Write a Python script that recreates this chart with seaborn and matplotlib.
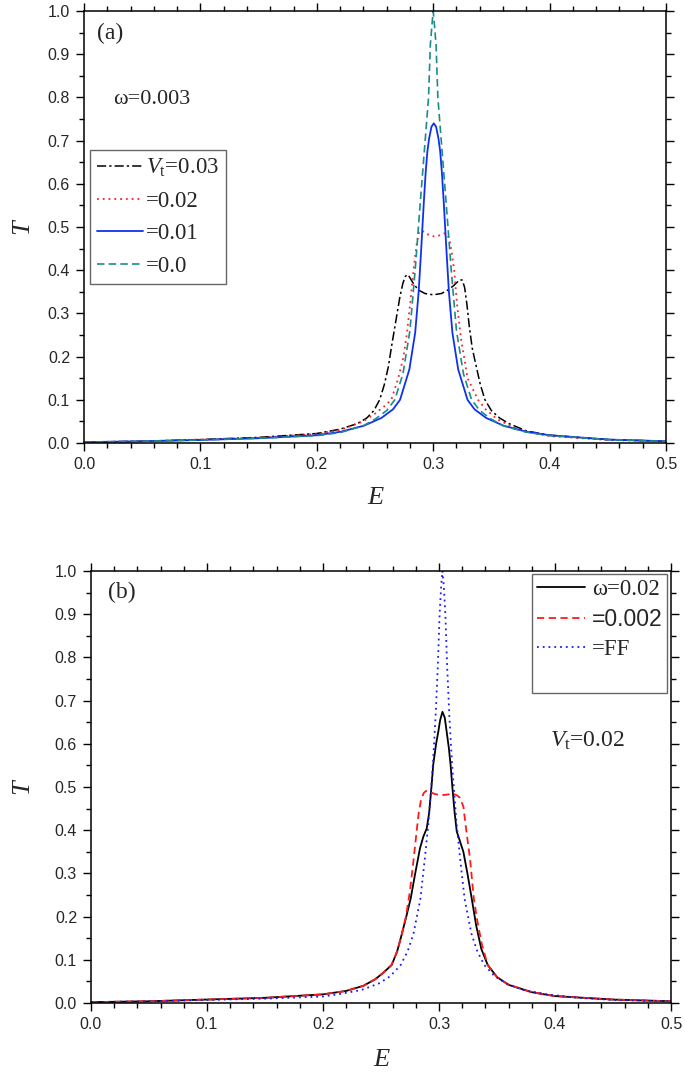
import matplotlib
matplotlib.use('Agg')
import matplotlib.pyplot as plt
from matplotlib.ticker import MultipleLocator, FormatStrFormatter
from matplotlib.lines import Line2D
import seaborn as sns

# ---- panel (a): omega = 0.003, several V_t ----
e_a_v003 = [0.0, 0.05, 0.1, 0.15, 0.2, 0.22, 0.235, 0.243, 0.249, 0.254, 0.258, 0.2615, 0.264, 0.2665, 0.269,
            0.2715, 0.274, 0.276, 0.2775, 0.279, 0.281, 0.284, 0.288, 0.293, 0.3, 0.307, 0.312, 0.317, 0.3205,
            0.323, 0.325, 0.327, 0.329, 0.331, 0.3335, 0.337, 0.3405, 0.3445, 0.35, 0.357, 0.365, 0.38, 0.4,
            0.45, 0.5]
t_a_v003 = [0.002, 0.004, 0.008, 0.013, 0.022, 0.032, 0.045, 0.058, 0.075, 0.10, 0.135, 0.177, 0.22, 0.26, 0.30,
            0.34, 0.37, 0.385, 0.39, 0.387, 0.378, 0.365, 0.353, 0.346, 0.343, 0.346, 0.353, 0.363, 0.372,
            0.378, 0.377, 0.36, 0.32, 0.27, 0.22, 0.177, 0.135, 0.10, 0.075, 0.058, 0.045, 0.028, 0.018,
            0.008, 0.004]

e_a_v002 = [0.0, 0.05, 0.1, 0.15, 0.2, 0.22, 0.24, 0.25, 0.258, 0.264, 0.27, 0.2745, 0.2775, 0.2805, 0.2835,
            0.2858, 0.2875, 0.2895, 0.292, 0.296, 0.301, 0.306, 0.3095, 0.312, 0.314, 0.316, 0.318, 0.3205,
            0.324, 0.3295, 0.3385, 0.345, 0.355, 0.37, 0.38, 0.4, 0.45, 0.5]
t_a_v002 = [0.002, 0.004, 0.008, 0.012, 0.021, 0.03, 0.05, 0.068, 0.085, 0.10, 0.15, 0.20, 0.255, 0.33, 0.41,
            0.46, 0.485, 0.492, 0.489, 0.482, 0.478, 0.481, 0.485, 0.484, 0.47, 0.44, 0.40, 0.32,
            0.24, 0.15, 0.10, 0.078, 0.055, 0.035, 0.026, 0.016, 0.007, 0.004]

e_a_v001 = [0.0, 0.05, 0.1, 0.15, 0.2, 0.2205, 0.2405, 0.2555, 0.2655, 0.2715, 0.2795, 0.2845, 0.2875, 0.2895,
            0.292, 0.2935, 0.295, 0.2965, 0.2985, 0.3005, 0.3025, 0.3045, 0.306, 0.3075, 0.309, 0.3115,
            0.3135, 0.3165, 0.3215, 0.3295, 0.3355, 0.3455, 0.3605, 0.3805, 0.4, 0.45, 0.5]
t_a_v001 = [0.002, 0.004, 0.007, 0.011, 0.018, 0.026, 0.04, 0.058, 0.078, 0.10, 0.17, 0.255, 0.35, 0.44,
            0.56, 0.625, 0.675, 0.705, 0.732, 0.74, 0.732, 0.705, 0.675, 0.625, 0.56, 0.44,
            0.35, 0.255, 0.17, 0.10, 0.078, 0.058, 0.04, 0.026, 0.018, 0.008, 0.004]

e_a_v000 = [0.0, 0.05, 0.1, 0.15, 0.2, 0.22, 0.24, 0.25, 0.26, 0.267, 0.274, 0.28, 0.2845, 0.289, 0.2925,
            0.296, 0.2975, 0.299, 0.300, 0.301, 0.3025, 0.304, 0.3075, 0.311, 0.3155, 0.32, 0.326, 0.333,
            0.34, 0.35, 0.36, 0.38, 0.4, 0.45, 0.5]
t_a_v000 = [0.002, 0.004, 0.007, 0.011, 0.017, 0.024, 0.04, 0.055, 0.075, 0.10, 0.16, 0.26, 0.40, 0.56, 0.68,
            0.80, 0.92, 0.97, 1.0, 0.97, 0.92, 0.80, 0.68, 0.56, 0.40, 0.26, 0.16, 0.10,
            0.075, 0.055, 0.04, 0.025, 0.017, 0.008, 0.004]

# ---- panel (b): V_t = 0.02, several omega ----
e_b_w002 = [0.0, 0.05, 0.1, 0.15, 0.2, 0.22, 0.235, 0.245, 0.252, 0.2592, 0.264, 0.268, 0.2718, 0.2756, 0.2795,
            0.2836, 0.2865, 0.2894, 0.2915, 0.2935, 0.295, 0.2975, 0.2994, 0.301, 0.303, 0.305, 0.3066,
            0.3085, 0.31, 0.3115, 0.3135, 0.3153, 0.318, 0.321, 0.3245, 0.3282, 0.332, 0.3365, 0.342,
            0.35, 0.36, 0.38, 0.4, 0.45, 0.5]
t_b_w002 = [0.002, 0.004, 0.008, 0.012, 0.02, 0.028, 0.04, 0.055, 0.07, 0.088, 0.12, 0.16, 0.20, 0.242, 0.30,
            0.358, 0.385, 0.404, 0.44, 0.50, 0.551, 0.60, 0.628, 0.655, 0.674, 0.66, 0.628,
            0.59, 0.551, 0.50, 0.44, 0.397, 0.375, 0.35, 0.30, 0.242, 0.18, 0.125, 0.088,
            0.06, 0.042, 0.025, 0.016, 0.008, 0.004]

e_b_w0002 = [0.0, 0.05, 0.1, 0.15, 0.2, 0.22, 0.235, 0.245, 0.252, 0.259, 0.264, 0.268, 0.2715, 0.275, 0.278,
             0.2807, 0.2825, 0.2845, 0.2868, 0.2888, 0.292, 0.296, 0.301, 0.306, 0.3105, 0.3135, 0.3158,
             0.318, 0.321, 0.3235, 0.3267, 0.330, 0.333, 0.337, 0.342, 0.35, 0.36, 0.38, 0.4, 0.45, 0.5]
t_b_w0002 = [0.002, 0.004, 0.008, 0.012, 0.02, 0.028, 0.04, 0.055, 0.07, 0.088, 0.12, 0.16, 0.20, 0.26, 0.33,
             0.397, 0.44, 0.47, 0.486, 0.491, 0.489, 0.484, 0.481, 0.482, 0.484, 0.483, 0.48,
             0.475, 0.455, 0.40, 0.335, 0.242, 0.19, 0.135, 0.088, 0.06, 0.042, 0.025, 0.016, 0.008, 0.004]

e_b_ff = [0.0, 0.05, 0.1, 0.15, 0.2, 0.213, 0.233, 0.248, 0.258, 0.267, 0.273, 0.278, 0.284, 0.288, 0.291,
          0.2947, 0.297, 0.299, 0.3005, 0.302, 0.303, 0.304, 0.3055, 0.307, 0.309, 0.3113, 0.315, 0.318,
          0.322, 0.328, 0.333, 0.339, 0.348, 0.358, 0.373, 0.393, 0.42, 0.45, 0.5]
t_b_ff = [0.002, 0.004, 0.007, 0.010, 0.015, 0.02, 0.03, 0.045, 0.062, 0.088, 0.12, 0.16, 0.242, 0.34, 0.42,
          0.551, 0.66, 0.78, 0.90, 0.97, 1.0, 0.97, 0.90, 0.78, 0.66, 0.551, 0.42, 0.34,
          0.242, 0.16, 0.12, 0.088, 0.062, 0.045, 0.03, 0.02, 0.012, 0.007, 0.004]

labels_a = [r'$V_{\rm t}$=0.03', '=0.02', '=0.01', '=0.0']
labels_b = ['\u03c9=0.02', '=0.002', '=FF']

sns.set_style('ticks')
plt.rcParams['font.family'] = ['Liberation Serif', 'DejaVu Serif']
plt.rcParams['mathtext.fontset'] = 'custom'
plt.rcParams['mathtext.rm'] = 'Liberation Serif'
plt.rcParams['mathtext.it'] = 'Liberation Serif:italic'


def style_axes(ax, xpad, ypad):
    ax.set_xlim(0, 0.5)
    ax.set_ylim(0, 1.0)
    ax.xaxis.set_major_locator(MultipleLocator(0.1))
    ax.xaxis.set_minor_locator(MultipleLocator(0.02))
    ax.yaxis.set_major_locator(MultipleLocator(0.1))
    ax.yaxis.set_minor_locator(MultipleLocator(0.05))
    ax.xaxis.set_major_formatter(FormatStrFormatter('%.1f'))
    ax.yaxis.set_major_formatter(FormatStrFormatter('%.1f'))
    ax.tick_params(which='both', direction='out', top=True, right=True, width=1.0, color='black')
    ax.tick_params(which='major', length=6, labelsize=11.5, pad=4)
    ax.tick_params(which='minor', length=3.5)
    for lab in ax.get_xticklabels() + ax.get_yticklabels():
        lab.set_family('Liberation Sans')
    for sp in ax.spines.values():
        sp.set_linewidth(1.1)
        sp.set_color('black')
    ax.set_xlabel('E', fontsize=19, fontstyle='italic', va='center')
    ax.set_ylabel('T', fontsize=19, fontstyle='italic', va='center')
    ax.xaxis.set_label_coords(0.5, xpad)
    ax.yaxis.set_label_coords(ypad, 0.5)


fig = plt.figure(figsize=(6.85, 10.75), dpi=100)
ax1 = fig.add_axes([84 / 685, 1 - 443 / 1075, 582 / 685, 432 / 1075])
ax2 = fig.add_axes([91 / 685, 1 - 1003 / 1075, 580 / 685, 432 / 1075])

# panel (a)
sns.lineplot(x=e_a_v003, y=t_a_v003, ax=ax1, color='black', lw=1.1, linestyle=(0, (6, 2, 1.5, 2)),
             label=labels_a[0], estimator=None)
sns.lineplot(x=e_a_v002, y=t_a_v002, ax=ax1, color='#ff2020', lw=1.3, linestyle=(0, (1, 2.2)),
             label=labels_a[1], estimator=None)
sns.lineplot(x=e_a_v001, y=t_a_v001, ax=ax1, color='#1030f0', lw=1.3, linestyle='-',
             label=labels_a[2], estimator=None)
sns.lineplot(x=e_a_v000, y=t_a_v000, ax=ax1, color='#1a8c8c', lw=1.2, linestyle=(0, (4.5, 2.5)),
             label=labels_a[3], estimator=None)
style_axes(ax1, -55 / 432, -62 / 582)
leg1 = ax1.legend(loc='upper left', bbox_to_anchor=(6 / 582, 293 / 432), borderaxespad=0,
                  fontsize=16.5, frameon=True, fancybox=False, edgecolor='#404040',
                  handlelength=2.0, handletextpad=0.15, borderpad=0.3, labelspacing=0.5)
leg1.get_frame().set_linewidth(1.0)
ax1.text(0.022, 0.949, '(a)', transform=ax1.transAxes, fontsize=17, va='center', ha='left')
ax1.text(0.050, 0.794, '\u03c9=0.003', transform=ax1.transAxes, fontsize=16, va='center', ha='left')

# panel (b)
sns.lineplot(x=e_b_w002, y=t_b_w002, ax=ax2, color='black', lw=1.3, linestyle='-',
             label=labels_b[0], estimator=None)
sns.lineplot(x=e_b_w0002, y=t_b_w0002, ax=ax2, color='#ff1a1a', lw=1.3, linestyle=(0, (4, 2.5)),
             label=labels_b[1], estimator=None)
sns.lineplot(x=e_b_ff, y=t_b_ff, ax=ax2, color='#1a1aff', lw=1.3, linestyle=(0, (1, 2.2)),
             label=labels_b[2], estimator=None)
style_axes(ax2, -57 / 432, -69 / 580)
handles, labs = ax2.get_legend_handles_labels()
handles.append(Line2D([], [], color='none'))
labs.append(' ')
leg2 = ax2.legend(handles, labs, loc='upper right', bbox_to_anchor=(576 / 580, 429 / 432), borderaxespad=0,
                  fontsize=16.5, frameon=True, fancybox=False, edgecolor='#404040',
                  handlelength=2.1, handletextpad=0.3, borderpad=0.2, labelspacing=0.35)
leg2.get_frame().set_linewidth(1.0)
leg2.get_texts()[1].set_family('Liberation Sans')
ax2.text(0.029, 0.951, '(b)', transform=ax2.transAxes, fontsize=17, va='center', ha='left')
ax2.text(0.791, 0.593, r'$V_{\rm t}$=0.02', transform=ax2.transAxes, fontsize=17, va='baseline', ha='left')

fig.savefig('out.png', dpi=100)
